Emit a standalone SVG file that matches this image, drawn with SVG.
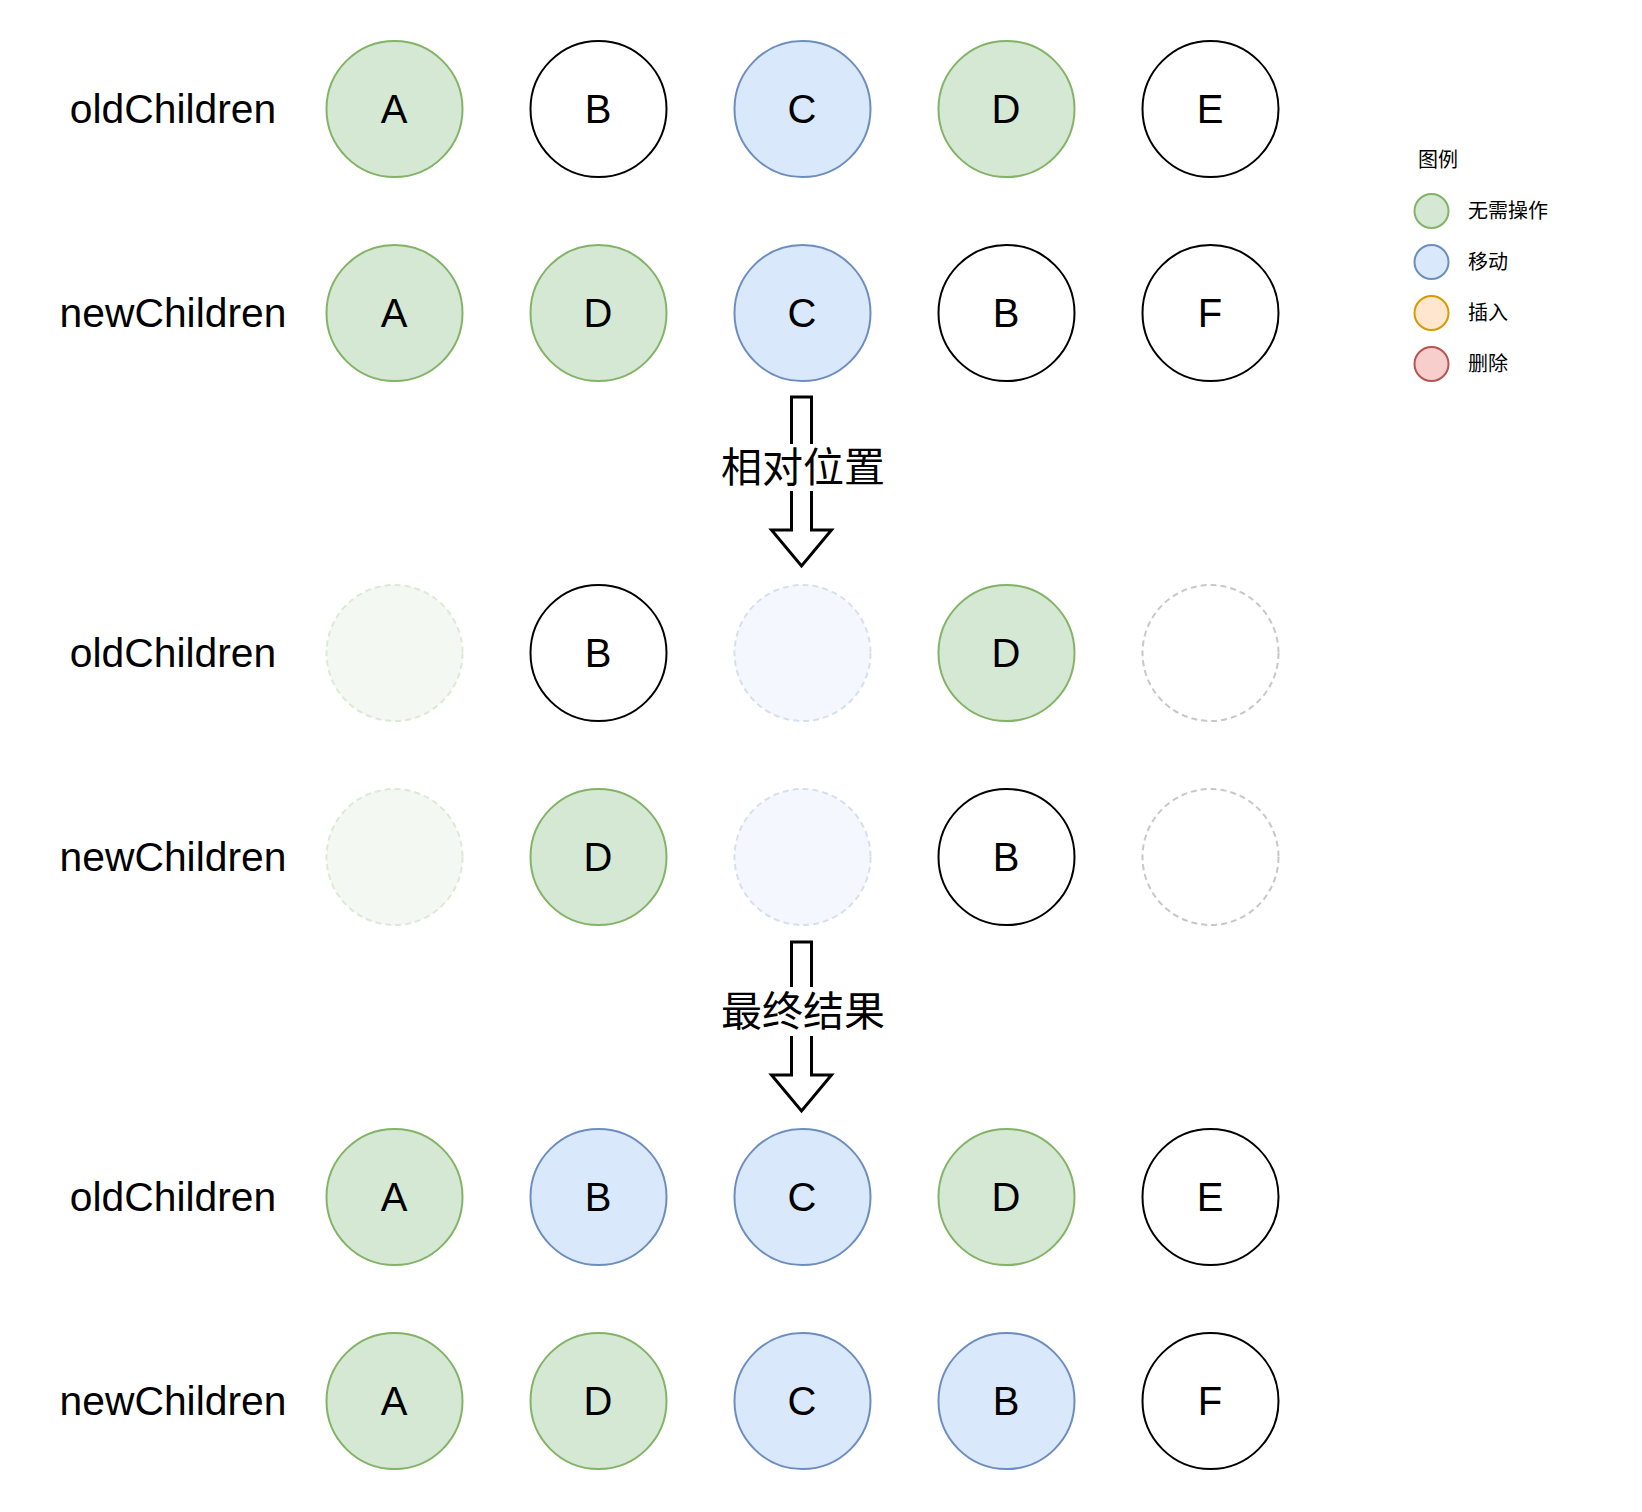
<svg xmlns="http://www.w3.org/2000/svg" width="1642" height="1512" viewBox="0 0 1642 1512">
<style>
  .lbl { font-family: "Liberation Sans", Arial, "Noto Sans CJK SC", sans-serif; font-size: 40px; fill: #000; text-anchor: middle; }
  .row { font-size: 40.8px; }
  .cjk { font-family: "Liberation Sans", "Noto Sans CJK SC", sans-serif; fill: #000; }
  .n { stroke-width: 2; }
  .white { fill: #ffffff; stroke: #000000; }
  .green { fill: #d5e8d4; stroke: #82b366; }
  .blue { fill: #dae8fc; stroke: #6c8ebf; }
  .orange { fill: #ffe6cc; stroke: #d79b00; }
  .red { fill: #f8cecc; stroke: #b85450; }
  .ghost { opacity: 0.27; stroke-dasharray: 6 4; }
  .ghostw { fill: #ffffff; stroke: #bbbbbb; stroke-dasharray: 6 4; opacity: 0.8; }
  .arrow { fill: #ffffff; stroke: #000000; stroke-width: 3; stroke-linejoin: miter; }
</style>
<rect width="1642" height="1512" fill="#ffffff"/>

<!-- row labels -->
<g id="labels">
  <text class="lbl row" x="173" y="123">oldChildren</text>
  <text class="lbl row" x="173" y="327">newChildren</text>
  <text class="lbl row" x="173" y="667">oldChildren</text>
  <text class="lbl row" x="173" y="871">newChildren</text>
  <text class="lbl row" x="173" y="1211">oldChildren</text>
  <text class="lbl row" x="173" y="1415">newChildren</text>
</g>

<!-- row 1: oldChildren -->
<g id="r1a"><circle class="n green" cx="394.5" cy="109" r="68"/><text class="lbl" x="394" y="123">A</text></g>
<g id="r1b"><circle class="n white" cx="598.5" cy="109" r="68"/><text class="lbl" x="598" y="123">B</text></g>
<g id="r1c"><circle class="n blue" cx="802.5" cy="109" r="68"/><text class="lbl" x="802" y="123">C</text></g>
<g id="r1d"><circle class="n green" cx="1006.5" cy="109" r="68"/><text class="lbl" x="1006" y="123">D</text></g>
<g id="r1e"><circle class="n white" cx="1210.5" cy="109" r="68"/><text class="lbl" x="1210" y="123">E</text></g>

<!-- row 2: newChildren -->
<g id="r2a"><circle class="n green" cx="394.5" cy="313" r="68"/><text class="lbl" x="394" y="327">A</text></g>
<g id="r2d"><circle class="n green" cx="598.5" cy="313" r="68"/><text class="lbl" x="598" y="327">D</text></g>
<g id="r2c"><circle class="n blue" cx="802.5" cy="313" r="68"/><text class="lbl" x="802" y="327">C</text></g>
<g id="r2b"><circle class="n white" cx="1006.5" cy="313" r="68"/><text class="lbl" x="1006" y="327">B</text></g>
<g id="r2f"><circle class="n white" cx="1210.5" cy="313" r="68"/><text class="lbl" x="1210" y="327">F</text></g>

<!-- row 3: oldChildren (relative) -->
<g id="r3a"><circle class="n green ghost" cx="394.5" cy="653" r="68"/></g>
<g id="r3b"><circle class="n white" cx="598.5" cy="653" r="68"/><text class="lbl" x="598" y="667">B</text></g>
<g id="r3c"><circle class="n blue ghost" cx="802.5" cy="653" r="68"/></g>
<g id="r3d"><circle class="n green" cx="1006.5" cy="653" r="68"/><text class="lbl" x="1006" y="667">D</text></g>
<g id="r3e"><circle class="n ghostw" cx="1210.5" cy="653" r="68"/></g>

<!-- row 4: newChildren (relative) -->
<g id="r4a"><circle class="n green ghost" cx="394.5" cy="857" r="68"/></g>
<g id="r4d"><circle class="n green" cx="598.5" cy="857" r="68"/><text class="lbl" x="598" y="871">D</text></g>
<g id="r4c"><circle class="n blue ghost" cx="802.5" cy="857" r="68"/></g>
<g id="r4b"><circle class="n white" cx="1006.5" cy="857" r="68"/><text class="lbl" x="1006" y="871">B</text></g>
<g id="r4f"><circle class="n ghostw" cx="1210.5" cy="857" r="68"/></g>

<!-- row 5: oldChildren (final) -->
<g id="r5a"><circle class="n green" cx="394.5" cy="1197" r="68"/><text class="lbl" x="394" y="1211">A</text></g>
<g id="r5b"><circle class="n blue" cx="598.5" cy="1197" r="68"/><text class="lbl" x="598" y="1211">B</text></g>
<g id="r5c"><circle class="n blue" cx="802.5" cy="1197" r="68"/><text class="lbl" x="802" y="1211">C</text></g>
<g id="r5d"><circle class="n green" cx="1006.5" cy="1197" r="68"/><text class="lbl" x="1006" y="1211">D</text></g>
<g id="r5e"><circle class="n white" cx="1210.5" cy="1197" r="68"/><text class="lbl" x="1210" y="1211">E</text></g>

<!-- row 6: newChildren (final) -->
<g id="r6a"><circle class="n green" cx="394.5" cy="1401" r="68"/><text class="lbl" x="394" y="1415">A</text></g>
<g id="r6d"><circle class="n green" cx="598.5" cy="1401" r="68"/><text class="lbl" x="598" y="1415">D</text></g>
<g id="r6c"><circle class="n blue" cx="802.5" cy="1401" r="68"/><text class="lbl" x="802" y="1415">C</text></g>
<g id="r6b"><circle class="n blue" cx="1006.5" cy="1401" r="68"/><text class="lbl" x="1006" y="1415">B</text></g>
<g id="r6f"><circle class="n white" cx="1210.5" cy="1401" r="68"/><text class="lbl" x="1210" y="1415">F</text></g>

<!-- connectors: block arrows -->
<g id="connectors">
  <g id="arrow1">
    <path class="arrow" d="M791.5,397 L811.5,397 L811.5,530 L831.5,530 L801.5,566 L771.5,530 L791.5,530 Z"/>
    <rect x="718" y="444" width="170" height="47" fill="#ffffff"/>
    <text class="cjk" x="803" y="482" font-size="41" text-anchor="middle">相对位置</text>
  </g>
  <g id="arrow2">
    <path class="arrow" d="M791.5,942 L811.5,942 L811.5,1075 L831.5,1075 L801.5,1111 L771.5,1075 L791.5,1075 Z"/>
    <rect x="718" y="987" width="170" height="49" fill="#ffffff"/>
    <text class="cjk" x="803" y="1026" font-size="41" text-anchor="middle">最终结果</text>
  </g>
</g>

<!-- legend -->
<g id="legend">
  <text class="cjk" x="1418" y="167" font-size="20">图例</text>
  <g id="leg-none"><circle class="n green" cx="1431.5" cy="211" r="17"/><text class="cjk" x="1468" y="218" font-size="20">无需操作</text></g>
  <g id="leg-move"><circle class="n blue" cx="1431.5" cy="262" r="17"/><text class="cjk" x="1468" y="269" font-size="20">移动</text></g>
  <g id="leg-insert"><circle class="n orange" cx="1431.5" cy="313" r="17"/><text class="cjk" x="1468" y="320" font-size="20">插入</text></g>
  <g id="leg-delete"><circle class="n red" cx="1431.5" cy="364" r="17"/><text class="cjk" x="1468" y="371" font-size="20">删除</text></g>
</g>
</svg>
